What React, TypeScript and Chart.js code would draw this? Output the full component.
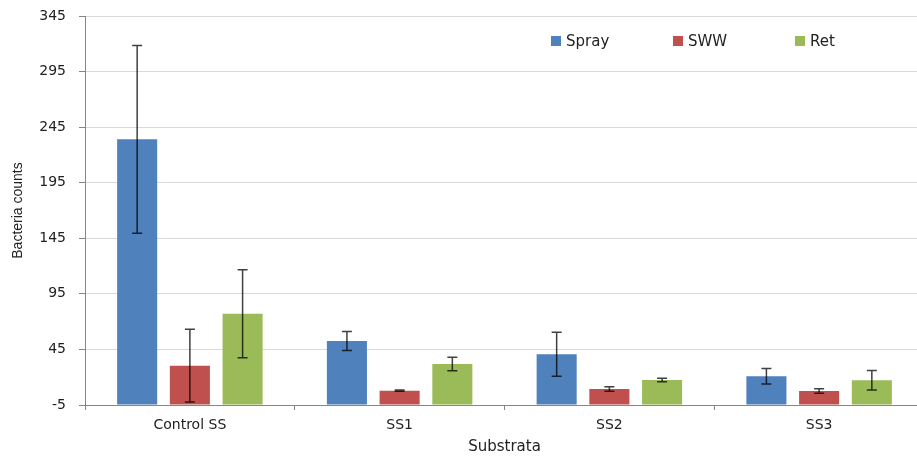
import React, { useEffect, useRef } from "react";
import { Chart, registerables } from "chart.js";

Chart.register(...registerables);

const categories = ["Control SS", "SS1", "SS2", "SS3"];
const seriesNames = ["Spray", "SWW", "Ret"];
const seriesColors = ["#4F81BD", "#C0504D", "#9BBB59"];
const sprayValues = [234, 52.6, 40.6, 20.8];
const sprayErrors = [84.5, 8.5, 19.8, 7];
const swwValues = [30.4, 7.9, 9.4, 7.6];
const swwErrors = [32.7, 0.5, 2, 2];
const retValues = [77.2, 31.9, 17.5, 17.2];
const retErrors = [39.6, 6, 1.5, 8.8];
const yTicks = [-5, 45, 95, 145, 195, 245, 295, 345];
const yTitle = "Bacteria counts";
const xTitle = "Substrata";

const errorSets = [sprayErrors, swwErrors, retErrors];

const errorBarPlugin = {
  id: "errorBars",
  afterDatasetsDraw(chart: any) {
    const ctx = chart.ctx;
    const y = chart.scales.y;
    ctx.save();
    ctx.strokeStyle = "rgba(0,0,0,0.75)";
    ctx.lineWidth = 1.5;
    chart.data.datasets.forEach((ds: any, di: number) => {
      const meta = chart.getDatasetMeta(di);
      meta.data.forEach((bar: any, i: number) => {
        const v = ds.data[i];
        const e = errorSets[di][i];
        const x = bar.x;
        const yTop = y.getPixelForValue(v + e);
        const yBot = y.getPixelForValue(v - e);
        ctx.beginPath();
        ctx.moveTo(x, yTop);
        ctx.lineTo(x, yBot);
        ctx.moveTo(x - 5, yTop);
        ctx.lineTo(x + 5, yTop);
        ctx.moveTo(x - 5, yBot);
        ctx.lineTo(x + 5, yBot);
        ctx.stroke();
      });
    });
    ctx.restore();
  },
};

const legendPlugin = {
  id: "customLegend",
  afterDraw(chart: any) {
    const ctx = chart.ctx;
    const startX = 551;
    const gap = 122;
    const cy = 41;
    ctx.save();
    ctx.font = "15px 'DejaVu Sans'";
    ctx.textBaseline = "middle";
    ctx.textAlign = "left";
    seriesNames.forEach((name, i) => {
      const x = startX + i * gap;
      ctx.fillStyle = seriesColors[i];
      ctx.fillRect(x, cy - 5, 10, 10);
      ctx.fillStyle = "#222";
      ctx.fillText(name, x + 15, cy + 1);
    });
    ctx.restore();
  },
};

export default function App() {
  const canvasRef = useRef<HTMLCanvasElement | null>(null);

  useEffect(() => {
    if (!canvasRef.current) return;
    const valueSets = [sprayValues, swwValues, retValues];
    const chart = new Chart(canvasRef.current, {
      type: "bar",
      data: {
        labels: categories,
        datasets: seriesNames.map((name, i) => ({
          label: name,
          data: valueSets[i],
          backgroundColor: seriesColors[i],
          borderWidth: 0,
          base: yTicks[0],
          categoryPercentage: 0.754,
          barPercentage: 0.76,
        })),
      },
      options: {
        animation: false,
        responsive: true,
        maintainAspectRatio: false,
        layout: { padding: { top: 16, right: 2, bottom: 0, left: 0 } },
        plugins: {
          legend: { display: false },
          tooltip: { enabled: false },
        },
        scales: {
          x: {
            grid: {
              display: true,
              drawOnChartArea: false,
              drawTicks: true,
              tickLength: 5,
              tickColor: "#868686",
              offset: true,
            },
            border: { color: "#868686", width: 1 },
            ticks: {
              color: "#222",
              font: { family: "'DejaVu Sans'", size: 14 },
              padding: 7,
            },
            title: {
              display: true,
              text: xTitle,
              color: "#222",
              font: { family: "'DejaVu Sans'", size: 15 },
              padding: { top: 0, bottom: 1 },
            },
            afterFit(scale: any) {
              scale.height = 52;
              scale.paddingLeft = 0;
              scale.paddingRight = 0;
            },
          },
          y: {
            min: yTicks[0],
            max: yTicks[yTicks.length - 1],
            afterBuildTicks(scale: any) {
              scale.ticks = yTicks.map((v) => ({ value: v }));
            },
            grid: {
              color: "#d9d9d9",
              tickColor: "#868686",
              tickLength: 6,
              lineWidth: 1,
            },
            border: { color: "#868686", width: 1 },
            ticks: {
              color: "#222",
              font: { family: "'DejaVu Sans'", size: 14 },
              padding: 13,
            },
            title: {
              display: true,
              text: yTitle,
              color: "#222",
              font: { family: "'Liberation Sans'", size: 14 },
              padding: { top: 10, bottom: 0 },
            },
            afterFit(scale: any) {
              scale.width = 85;
              scale.paddingTop = 0;
              scale.paddingBottom = 0;
            },
          },
        },
      },
      plugins: [errorBarPlugin, legendPlugin],
    });
    return () => chart.destroy();
  }, []);

  return (
    <div
      style={{
        position: "fixed",
        left: 0,
        top: 0,
        width: 917,
        height: 457,
        overflow: "hidden",
        background: "#fff",
      }}
    >
      <div style={{ position: "relative", width: 926, height: 457 }}>
        <canvas ref={canvasRef} />
      </div>
    </div>
  );
}
